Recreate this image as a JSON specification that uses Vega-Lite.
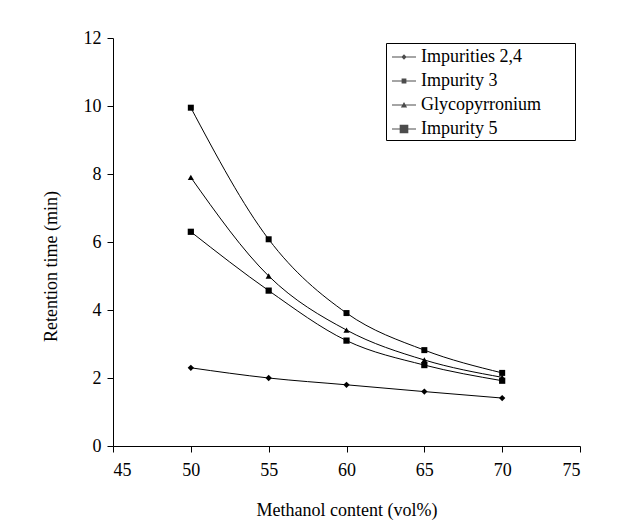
{
  "$schema": "https://vega.github.io/schema/vega-lite/v6.json",
  "autosize": {"type": "none"},
  "width": 467,
  "height": 408,
  "padding": {"left": 113, "top": 38, "right": 47, "bottom": 82},
  "background": "white",
  "config": {
    "view": {"stroke": null},
    "font": "Liberation Serif",
    "axis": {
      "labelFont": "Liberation Serif",
      "titleFont": "Liberation Serif",
      "labelFontSize": 18,
      "titleFontSize": 18,
      "titleFontWeight": "normal",
      "labelColor": "black",
      "titleColor": "black",
      "domainColor": "black",
      "tickColor": "black",
      "grid": false,
      "tickSize": 6
    },
    "legend": {"labelFont": "Liberation Serif"}
  },
  "data": {
    "values": [
      {"series": "Impurities 2,4", "methanol": 50, "time": 2.3},
      {"series": "Impurities 2,4", "methanol": 55, "time": 2.0},
      {"series": "Impurities 2,4", "methanol": 60, "time": 1.8},
      {"series": "Impurities 2,4", "methanol": 65, "time": 1.6},
      {"series": "Impurities 2,4", "methanol": 70, "time": 1.41},
      {"series": "Impurity 3", "methanol": 50, "time": 6.3},
      {"series": "Impurity 3", "methanol": 55, "time": 4.57},
      {"series": "Impurity 3", "methanol": 60, "time": 3.1},
      {"series": "Impurity 3", "methanol": 65, "time": 2.38},
      {"series": "Impurity 3", "methanol": 70, "time": 1.92},
      {"series": "Glycopyrronium", "methanol": 50, "time": 7.9},
      {"series": "Glycopyrronium", "methanol": 55, "time": 5.0},
      {"series": "Glycopyrronium", "methanol": 60, "time": 3.41},
      {"series": "Glycopyrronium", "methanol": 65, "time": 2.53},
      {"series": "Glycopyrronium", "methanol": 70, "time": 2.02},
      {"series": "Impurity 5", "methanol": 50, "time": 9.95},
      {"series": "Impurity 5", "methanol": 55, "time": 6.08},
      {"series": "Impurity 5", "methanol": 60, "time": 3.91},
      {"series": "Impurity 5", "methanol": 65, "time": 2.82},
      {"series": "Impurity 5", "methanol": 70, "time": 2.15}
    ]
  },
  "encoding": {
    "x": {
      "field": "methanol", "type": "quantitative",
      "scale": {"domain": [45, 75], "nice": false, "zero": false},
      "axis": {
        "values": [45, 50, 55, 60, 65, 70, 75],
        "title": "Methanol content (vol%)",
        "labelFont": "Liberation Serif",
        "titleFont": "Liberation Serif",
        "labelPadding": 9,
        "titleBaseline": "middle",
        "titleY": 64
      }
    },
    "y": {
      "field": "time", "type": "quantitative",
      "scale": {"domain": [0, 12], "nice": false},
      "axis": {
        "values": [0, 2, 4, 6, 8, 10, 12],
        "title": "Retention time (min)",
        "labelFont": "Liberation Serif",
        "titleFont": "Liberation Serif",
        "labelPadding": 6,
        "titleBaseline": "middle",
        "titleX": -62,
        "titleY": 228,
        "titleAngle": -90,
        "titleAlign": "center"
      }
    }
  },
  "layer": [
    {
      "mark": {"type": "line", "interpolate": "monotone", "color": "black", "strokeWidth": 1},
      "encoding": {"detail": {"field": "series", "type": "nominal"}}
    },
    {
      "mark": {"type": "point", "filled": true, "color": "black", "opacity": 1},
      "encoding": {
        "shape": {
          "field": "series", "type": "nominal",
          "scale": {"domain": ["Impurities 2,4", "Impurity 3", "Glycopyrronium", "Impurity 5"], "range": ["diamond", "square", "triangle-up", "square"]},
          "legend": null
        },
        "size": {
          "field": "series", "type": "nominal",
          "scale": {"domain": ["Impurities 2,4", "Impurity 3", "Glycopyrronium", "Impurity 5"], "range": [40, 36, 45, 90]},
          "legend": null
        }
      }
    },
    {
      "data": {"values": []},
      "mark": {"type": "point", "filled": true, "color": "black"},
      "encoding": {
        "shape": {
          "field": "series", "type": "nominal",
          "scale": {
            "domain": ["Impurities 2,4", "Impurity 3", "Glycopyrronium", "Impurity 5"],
            "range": [
              "M-1,-0.042H1V0.042H-1ZM0,-0.22L0.22,0L0,0.22L-0.22,0Z",
              "M-1,-0.042H1V0.042H-1ZM-0.2,-0.2H0.2V0.2H-0.2Z",
              "M-1,-0.042H1V0.042H-1ZM0,-0.26L0.26,0.2H-0.26Z",
              "M-1,-0.042H1V0.042H-1ZM-0.36,-0.36H0.36V0.36H-0.36Z"
            ]
          },
          "legend": {
            "orient": "none",
            "legendX": 273,
            "legendY": 5,
            "title": null,
            "symbolSize": 576,
            "symbolFillColor": "black",
            "symbolStrokeWidth": 0,
            "labelFont": "Liberation Serif",
            "labelFontSize": 18,
            "labelColor": "black",
            "labelOffset": 5,
            "labelExpr": "datum.label + '       \u200b'",
            "strokeColor": "black",
            "fillColor": "white",
            "padding": 2,
            "symbolOffset": 4,
            "rowPadding": 3
          }
        }
      }
    }
  ],
  "resolve": {"scale": {"shape": "independent", "size": "independent"}, "legend": {"shape": "independent"}}
}
